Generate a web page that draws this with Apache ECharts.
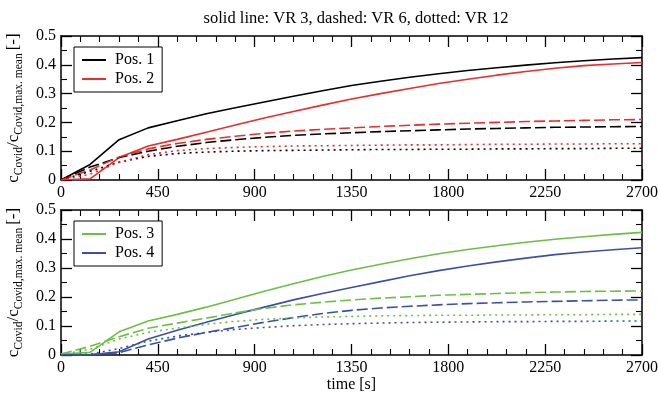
<!DOCTYPE html>
<html>
<head>
<meta charset="utf-8">
<script src="https://cdn.jsdelivr.net/npm/echarts@6/dist/echarts.min.js"></script>
<style>
  html, body { margin: 0; padding: 0; background: #fff; }
  #chart { width: 658px; height: 397px; }
</style>
</head>
<body>
<div id="chart"></div>
<script>
// time [s]
const times = [0, 135, 270, 405, 540, 675, 810, 945, 1080, 1215, 1350, 1485, 1620, 1755, 1890, 2025, 2160, 2295, 2430, 2565, 2700]

// top panel
const pos1Vr3 = [0, 0.054, 0.140, 0.181, 0.206, 0.230, 0.251, 0.271, 0.291, 0.310, 0.328, 0.343, 0.357, 0.369, 0.380, 0.390, 0.399, 0.407, 0.414, 0.420, 0.425]
const pos2Vr3 = [0, 0.004, 0.078, 0.118, 0.141, 0.166, 0.191, 0.215, 0.238, 0.260, 0.281, 0.300, 0.318, 0.335, 0.350, 0.364, 0.377, 0.388, 0.397, 0.403, 0.408]
const pos1Vr6 = [0, 0.045, 0.078, 0.100, 0.117, 0.130, 0.140, 0.148, 0.155, 0.160, 0.164, 0.168, 0.171, 0.174, 0.177, 0.179, 0.181, 0.183, 0.184, 0.185, 0.186]
const pos2Vr6 = [0, 0.035, 0.080, 0.108, 0.127, 0.141, 0.152, 0.162, 0.170, 0.176, 0.181, 0.186, 0.190, 0.194, 0.197, 0.200, 0.203, 0.205, 0.207, 0.209, 0.210]
const pos1Vr12 = [0, 0.030, 0.062, 0.082, 0.092, 0.097, 0.100, 0.102, 0.103, 0.104, 0.105, 0.106, 0.106, 0.107, 0.107, 0.108, 0.108, 0.109, 0.109, 0.110, 0.110]
const pos2Vr12 = [0, 0.020, 0.062, 0.088, 0.102, 0.109, 0.113, 0.116, 0.118, 0.119, 0.120, 0.121, 0.122, 0.122, 0.123, 0.124, 0.124, 0.125, 0.125, 0.126, 0.126]

// bottom panel
const pos3Vr3 = [0.003, 0.009, 0.080, 0.117, 0.140, 0.165, 0.192, 0.220, 0.246, 0.271, 0.293, 0.313, 0.332, 0.349, 0.364, 0.377, 0.389, 0.399, 0.408, 0.416, 0.423]
const pos4Vr3 = [0.001, 0.001, 0.011, 0.055, 0.085, 0.113, 0.140, 0.165, 0.190, 0.212, 0.233, 0.253, 0.273, 0.291, 0.307, 0.321, 0.334, 0.346, 0.355, 0.363, 0.370]
const pos3Vr6 = [0.003, 0.030, 0.063, 0.092, 0.110, 0.127, 0.145, 0.161, 0.173, 0.182, 0.190, 0.196, 0.201, 0.206, 0.209, 0.212, 0.215, 0.217, 0.219, 0.220, 0.221]
const pos4Vr6 = [0, 0.001, 0.008, 0.035, 0.058, 0.078, 0.095, 0.113, 0.129, 0.143, 0.154, 0.162, 0.168, 0.173, 0.177, 0.180, 0.183, 0.185, 0.187, 0.189, 0.190]
const pos3Vr12 = [0.002, 0.020, 0.055, 0.078, 0.093, 0.106, 0.116, 0.123, 0.128, 0.131, 0.133, 0.135, 0.136, 0.137, 0.137, 0.138, 0.138, 0.139, 0.139, 0.140, 0.140]
const pos4Vr12 = [0, 0.003, 0.022, 0.048, 0.065, 0.078, 0.088, 0.095, 0.101, 0.105, 0.108, 0.110, 0.112, 0.113, 0.114, 0.115, 0.115, 0.116, 0.116, 0.117, 0.117]

const FONT = '"Liberation Serif", "DejaVu Serif", serif'
const BLACK = '#000000'
const RED = '#ee2a2a'
const GREEN = '#6cbf45'
const BLUE = '#3b51a3'

function line(name, values, color, dash, panel) {
  return {
    name: name,
    type: 'line',
    xAxisIndex: panel * 2,
    yAxisIndex: panel * 2,
    data: times.map((t, i) => [t, values[i]]),
    symbol: 'none',
    smooth: false,
    lineStyle: { color: color, width: 1.6, type: dash },
    itemStyle: { color: color },
    z: 3
  }
}

const DASH = [11, 4]
const DOT = [2, 4]

function xAxis(grid, pos, labels) {
  return {
    type: 'value',
    gridIndex: grid,
    position: pos,
    min: 0,
    max: 2700,
    interval: 450,
    axisLine: { show: true, onZero: false, lineStyle: { color: BLACK, width: 1.5 } },
    axisTick: { show: true, inside: true, length: 11, lineStyle: { color: BLACK, width: 1.3 } },
    minorTick: { show: true, splitNumber: 5, length: 6, lineStyle: { color: BLACK, width: 1.1 } },
    axisLabel: {
      show: labels, color: BLACK, fontFamily: FONT, fontSize: 16, margin: 5,
      formatter: v => String(v)
    },
    splitLine: { show: false }
  }
}

const yName = '{c|c}{s|Covid}{c|/c}{s|Covid,max. mean} {c|[-]}'

function yAxis(grid, pos, labels) {
  return {
    type: 'value',
    gridIndex: grid,
    position: pos,
    min: 0,
    max: 0.5,
    interval: 0.1,
    name: labels ? yName : '',
    nameLocation: 'middle',
    nameRotate: 90,
    nameGap: 35,
    nameTextStyle: {
      color: BLACK,
      fontFamily: FONT,
      rich: {
        c: { fontSize: 17, fontFamily: FONT, color: BLACK, lineHeight: 24 },
        s: { fontSize: 11.5, fontFamily: FONT, color: BLACK, lineHeight: 11, verticalAlign: 'bottom' }
      }
    },
    axisLine: { show: true, onZero: false, lineStyle: { color: BLACK, width: 1.5 } },
    axisTick: { show: true, inside: true, length: 11, lineStyle: { color: BLACK, width: 1.3 } },
    minorTick: { show: true, splitNumber: 2, length: 6, lineStyle: { color: BLACK, width: 1.1 } },
    axisLabel: { show: labels, color: BLACK, fontFamily: FONT, fontSize: 16, margin: 5 },
    splitLine: { show: false }
  }
}

function legend(names, top) {
  return {
    data: names,
    orient: 'vertical',
    left: 74,
    top: top,
    backgroundColor: '#fff',
    borderColor: BLACK,
    borderWidth: 1,
    borderRadius: 0,
    padding: [5, 8, 5, 8],
    icon: 'rect',
    itemWidth: 24,
    itemHeight: 2,
    itemGap: 3,
    textStyle: { color: BLACK, fontFamily: FONT, fontSize: 16, padding: [0, 0, 0, 4] },
    selectedMode: false
  }
}

const chart = echarts.init(document.getElementById('chart'), null, { renderer: 'canvas' })
chart.setOption({
  animation: false,
  backgroundColor: '#fff',
  title: {
    text: 'solid line: VR 3, dashed: VR 6, dotted: VR 12',
    left: 351,
    textAlign: 'center',
    top: 5,
    textStyle: { color: BLACK, fontFamily: FONT, fontSize: 16.5, fontWeight: 'normal' }
  },
  legend: [legend(['Pos. 1', 'Pos. 2'], 47), legend(['Pos. 3', 'Pos. 4'], 221)],
  grid: [
    { left: 61, right: 16, top: 36, height: 144, outerBoundsMode: 'none' },
    { left: 61, right: 16, top: 210, height: 145, outerBoundsMode: 'none' }
  ],
  xAxis: [
    xAxis(0, 'bottom', true),
    xAxis(0, 'top', false),
    Object.assign(xAxis(1, 'bottom', true), {
      name: 'time [s]',
      nameLocation: 'middle',
      nameGap: 20,
      nameTextStyle: { color: BLACK, fontFamily: FONT, fontSize: 16 }
    }),
    xAxis(1, 'top', false)
  ],
  yAxis: [
    yAxis(0, 'left', true),
    yAxis(0, 'right', false),
    yAxis(1, 'left', true),
    yAxis(1, 'right', false)
  ],
  series: [
    line('Pos. 1', pos1Vr3, BLACK, 'solid', 0),
    line('Pos. 2', pos2Vr3, RED, 'solid', 0),
    line('Pos. 1 VR 6', pos1Vr6, BLACK, DASH, 0),
    line('Pos. 2 VR 6', pos2Vr6, RED, DASH, 0),
    line('Pos. 1 VR 12', pos1Vr12, BLACK, DOT, 0),
    line('Pos. 2 VR 12', pos2Vr12, RED, DOT, 0),
    line('Pos. 3', pos3Vr3, GREEN, 'solid', 1),
    line('Pos. 4', pos4Vr3, BLUE, 'solid', 1),
    line('Pos. 3 VR 6', pos3Vr6, GREEN, DASH, 1),
    line('Pos. 4 VR 6', pos4Vr6, BLUE, DASH, 1),
    line('Pos. 3 VR 12', pos3Vr12, GREEN, DOT, 1),
    line('Pos. 4 VR 12', pos4Vr12, BLUE, DOT, 1)
  ]
})
</script>
</body>
</html>
